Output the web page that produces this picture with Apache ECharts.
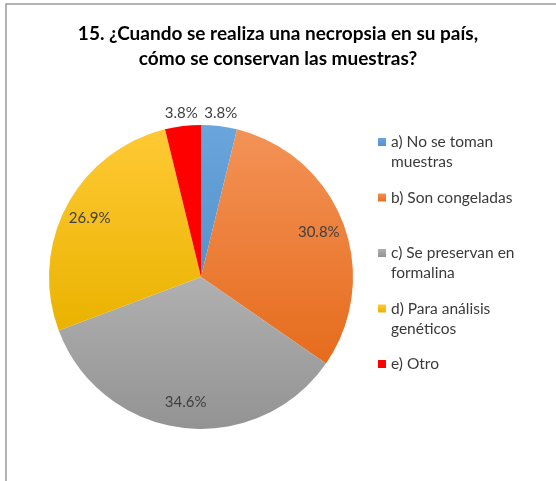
<!DOCTYPE html>
<html>
<head>
<meta charset="utf-8">
<script src="https://cdn.jsdelivr.net/npm/echarts@6/dist/echarts.min.js"></script>
<style>
  html, body { margin: 0; padding: 0; background: #fff; }
  #main { width: 556px; height: 481px; }
</style>
</head>
<body>
<div id="main"></div>
<script>
var myChart = echarts.init(document.getElementById('main'));

var categories = ['a) No se toman\nmuestras', 'b) Son congeladas', 'c) Se preservan en\nformalina', 'd) Para análisis\ngenéticos', 'e) Otro'];
var values = [3.8, 30.8, 34.6, 26.9, 3.8];
// colores (arriba / abajo del degradado)
var colorsTop = ['#6aa6dc', '#f39257', '#b0b0b0', '#ffc935', '#ff0000'];
var colorsBottom = ['#5591cc', '#e66c1c', '#939393', '#eab300', '#ff0000'];

var font = 'Lato';
var small = [true, false, false, false, true]; // etiquetas fuera del pastel

function grad(i) {
    return new echarts.graphic.LinearGradient(0, 0, 0, 1, [
        { offset: 0, color: colorsTop[i] },
        { offset: 1, color: colorsBottom[i] }
    ]);
}

var mainData = [], labelData = [], smallData = [];
categories.forEach(function (name, i) {
    mainData.push({ name: name, value: values[i], itemStyle: { color: grad(i) } });
    labelData.push({ name: name, value: values[i], label: { show: !small[i] } });
    smallData.push({ name: name, value: values[i], label: { show: small[i] } });
});

var labelStyle = {
    fontFamily: font,
    fontSize: 15,
    color: '#404040',
    formatter: function (p) { return p.value.toFixed(1) + '%'; }
};

var center = [201, 277];

option = {
    backgroundColor: '#fff',
    animation: false,
    title: {
        text: '15. ¿Cuando se realiza una necropsia en su país,\ncómo se conservan las muestras?',
        left: 'center',
        top: 16,
        textStyle: {
            fontFamily: font,
            fontSize: 19,
            fontWeight: 'bold',
            color: '#000',
            lineHeight: 25
        }
    },
    legend: {
        orient: 'vertical',
        left: 378,
        top: 112,
        padding: 0,
        itemWidth: 8,
        itemHeight: 8,
        itemGap: -4.5,
        icon: 'rect',
        selectedMode: false,
        textStyle: {
            fontFamily: font,
            fontSize: 15.5,
            color: '#3a3a3a',
            lineHeight: 20
        },
        // cuadro alineado con la primera línea: todas las entradas con 3 líneas
        formatter: function (name) {
            return name.indexOf('\n') >= 0 ? '\n' + name : '\n' + name + '\n';
        },
        data: categories
    },
    graphic: [{
        type: 'rect',
        shape: { x: 6, y: 4, width: 700, height: 700 },
        style: { fill: 'none', stroke: '#9a9a9a', lineWidth: 1.5 },
        silent: true
    }],
    series: [{
        name: 'main',
        type: 'pie',
        center: center,
        radius: [0, 152],
        startAngle: 90,
        label: { show: false },
        labelLine: { show: false },
        itemStyle: { borderWidth: 0 },
        emphasis: { disabled: true },
        data: mainData
    }, {
        name: 'labels',
        type: 'pie',
        silent: true,
        center: center,
        radius: [94, 152],
        startAngle: 90,
        itemStyle: { color: 'rgba(0,0,0,0)' },
        label: Object.assign({ position: 'inside' }, labelStyle),
        labelLine: { show: false },
        emphasis: { disabled: true },
        data: labelData
    }, {
        name: 'smallLabels',
        type: 'pie',
        silent: true,
        center: center,
        radius: [155, 169],
        startAngle: 90,
        itemStyle: { color: 'rgba(0,0,0,0)' },
        label: Object.assign({ position: 'inside' }, labelStyle),
        labelLine: { show: false },
        emphasis: { disabled: true },
        data: smallData
    }]
};

myChart.setOption(option);
</script>
</body>
</html>
